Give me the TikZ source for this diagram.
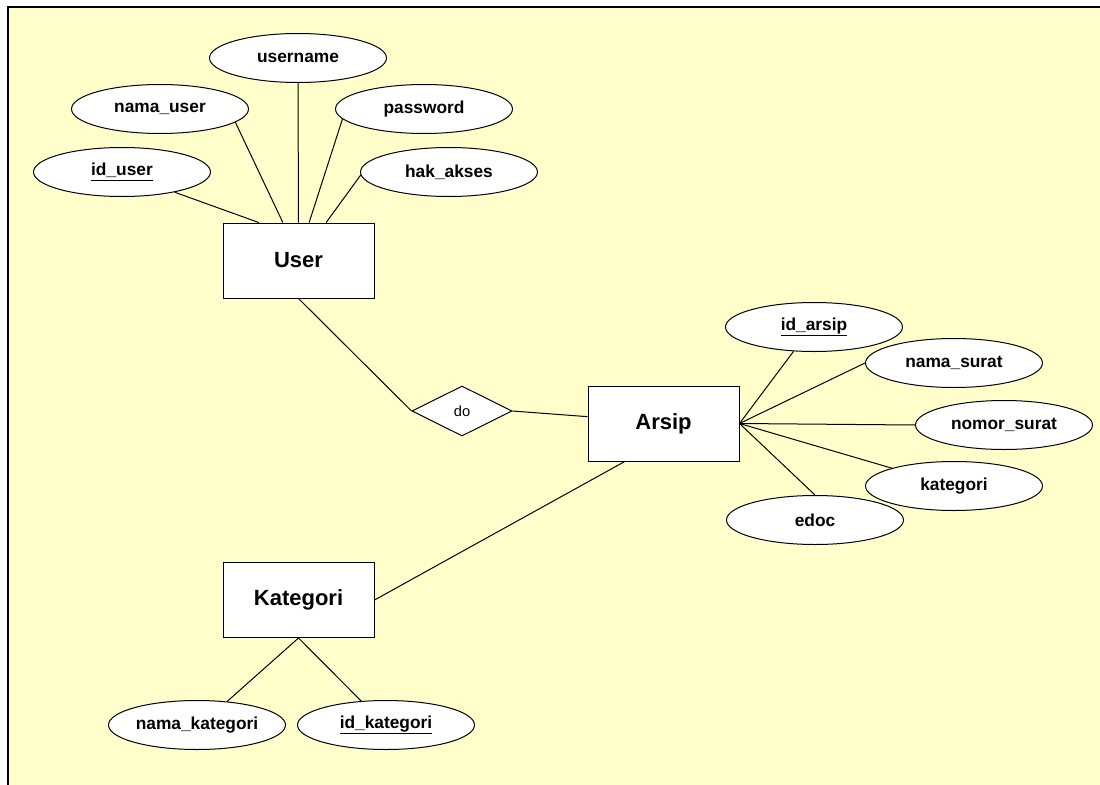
\documentclass[tikz,border=0pt]{standalone}
\usepackage{fontspec}
\setmainfont{Liberation Sans}
\usetikzlibrary{shapes.geometric,calc}
\definecolor{bgyellow}{HTML}{FFFFCC}
\begin{document}
\begin{tikzpicture}[x=0.75pt,y=-0.75pt,
  attr/.style={ellipse,draw=black,fill=white,line width=0.75pt,minimum width=132.75pt,minimum height=36.75pt,inner sep=0pt,font=\bfseries\fontsize{13}{15}\selectfont},
  entity/.style={rectangle,draw=black,fill=white,line width=0.75pt,minimum width=113.25pt,minimum height=56.25pt,inner sep=0pt,font=\bfseries\fontsize{16.5}{19}\selectfont},
  relship/.style={diamond,draw=black,fill=white,line width=0.75pt,minimum width=75pt,minimum height=37.5pt,aspect=2,inner sep=0pt,font=\fontsize{11}{13}\selectfont},
  link/.style={draw=black,line width=0.75pt}]
\useasboundingbox (0,0) rectangle (1100,785);
\fill[white] (0,0) rectangle (1100,785);
\fill[bgyellow] (8,7) rectangle (1100,785);
\draw[line width=1.1pt] (8,785) -- (8,7) -- (1100,7);

% User attributes
\node[attr] (username) at (298,58) {username};
\node[attr] (namauser) at (160,109) {nama\_user};
\node[attr] (password) at (424,109) {password};
\node[attr] (iduser) at (122,172) {\underline{id\_user}};
\node[attr] (hakakses) at (449,172) {hak\_akses};

% entities and relationship
\node[entity] (user) at (298.5,260.5) {User};
\node[relship] (do) at (462,411) {do};
\node[entity] (arsip) at (663.5,423.5) {Arsip};
\node[entity] (kategori) at (298.5,600) {Kategori};

% Arsip attributes
\node[attr] (idarsip) at (814,327) {\underline{id\_arsip}};
\node[attr] (namasurat) at (954,363) {nama\_surat};
\node[attr] (nomorsurat) at (1004,425) {nomor\_surat};
\node[attr] (akategori) at (954,486) {kategori};
\node[attr] (edoc) at (815,520) {edoc};

% Kategori attributes
\node[attr] (namakategori) at (197,725) {nama\_kategori};
\node[attr] (idkategori) at (386,725) {\underline{id\_kategori}};

% connectors
\draw[link] (iduser.-21) -- ($(user.north west)!0.238!(user.north east)$);
\draw[link] (namauser.-10) -- ($(user.north west)!0.397!(user.north east)$);
\draw[link] (username.south) -- (user.north);
\draw[link] (password.187) -- ($(user.north west)!0.57!(user.north east)$);
\draw[link] (hakakses.182) -- ($(user.north west)!0.682!(user.north east)$);
\draw[link] (user.south) -- (do.west);
\draw[link] (do.east) -- ($(arsip.north west)!0.41!(arsip.south west)$);
\draw[link] ($(arsip.south west)!0.245!(arsip.south east)$) -- (kategori.east);
\draw[link] (arsip.east) -- (idarsip.-130);
\draw[link] (arsip.east) -- (namasurat.west);
\draw[link] (arsip.east) -- (nomorsurat.west);
\draw[link] (arsip.east) -- (akategori.164);
\draw[link] (arsip.east) -- (edoc.north);
\draw[link] (kategori.south) -- (namakategori.38);
\draw[link] (kategori.south) -- (idkategori.136);
\end{tikzpicture}
\end{document}
